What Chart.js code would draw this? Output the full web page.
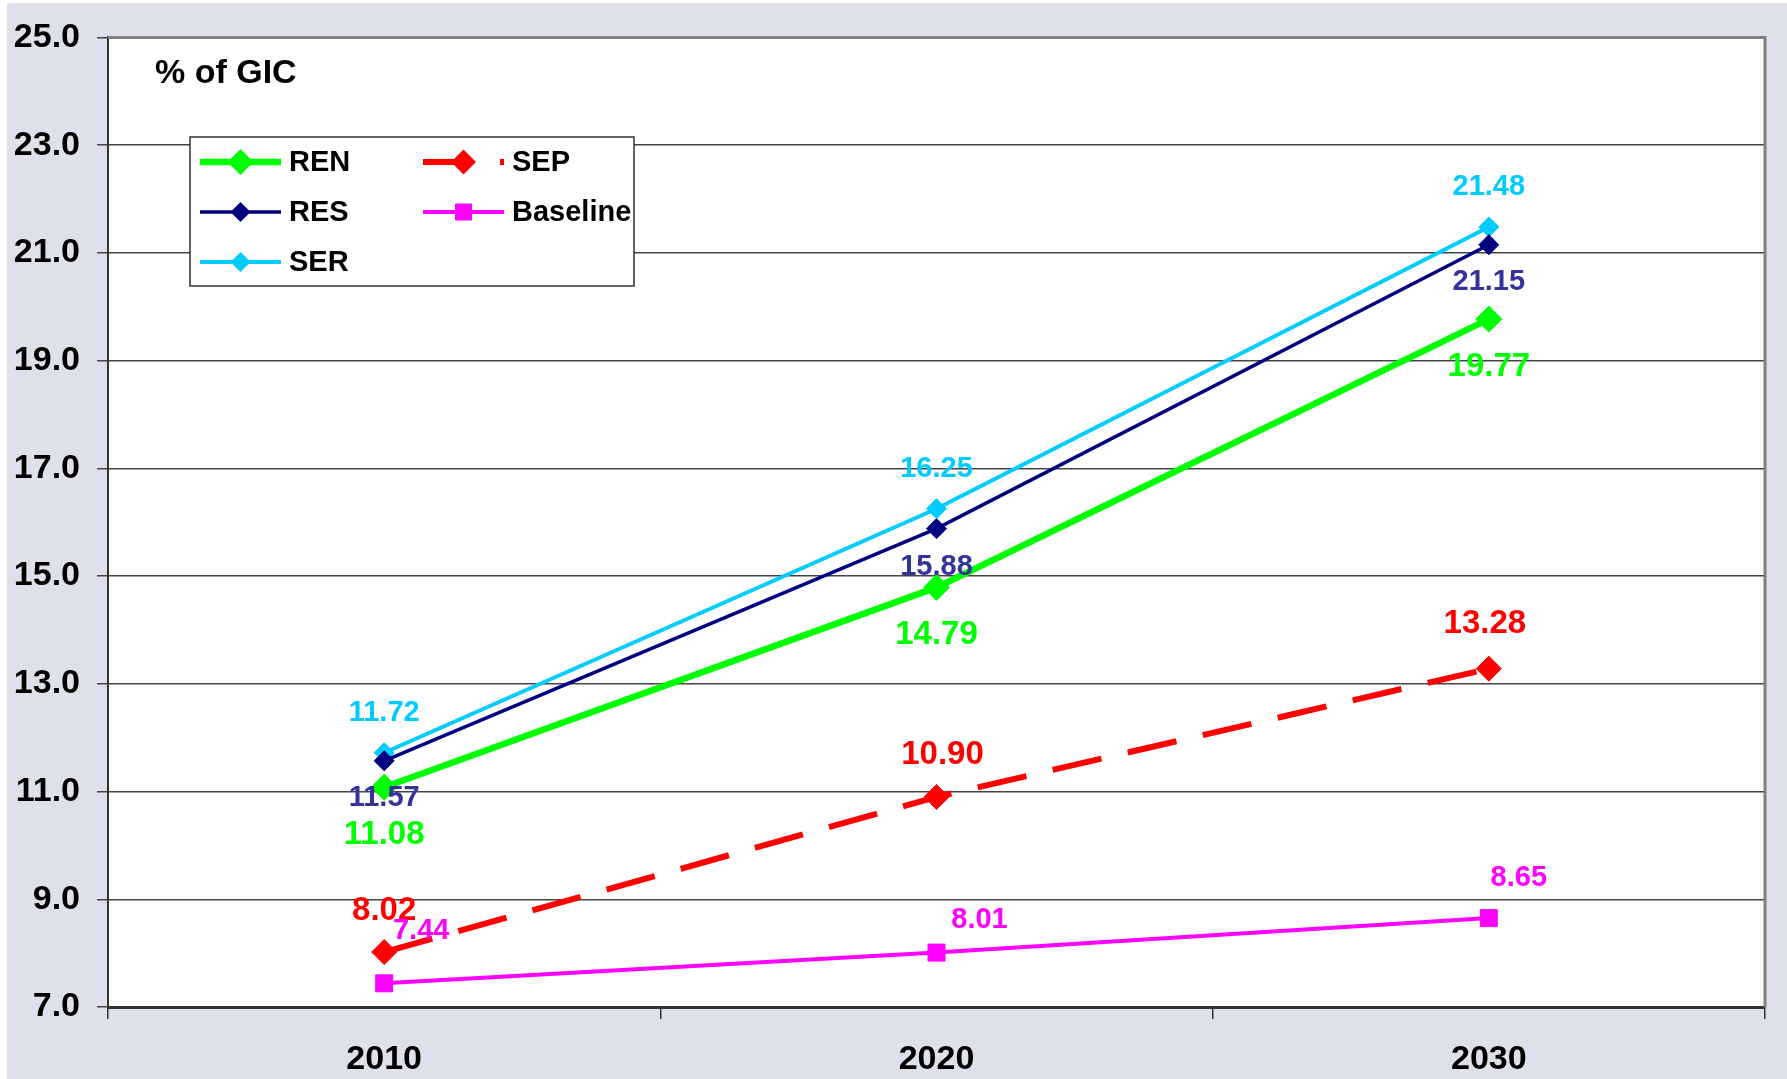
<!DOCTYPE html>
<html><head><meta charset="utf-8">
<script src="https://cdn.jsdelivr.net/npm/chart.js@4/dist/chart.umd.min.js"></script>
<style>html,body{margin:0;padding:0;background:#fff;overflow:hidden}#wrap{width:1787px;height:1079px;position:relative}</style>
</head><body><div id="wrap"><canvas id="c" width="1787" height="1079"></canvas></div>
<script>
// ---- data ----
const categories = ['2010', '2020', '2030'];
const REN = [11.08, 14.79, 19.77];
const RES = [11.57, 15.88, 21.15];
const SER = [11.72, 16.25, 21.48];
const SEP = [8.02, 10.90, 13.28];
const Baseline = [7.44, 8.01, 8.65];
const yTickValues = [7, 9, 11, 13, 15, 17, 19, 21, 23, 25];
const unitTitle = '% of GIC';

const FONT = '"Liberation Sans", Arial, Helvetica, sans-serif';

// ---- label styling (offsets in px relative to the point) ----
const labelStyle = {
  REN:      {color: '#00FF00', size: 33, dx: [0, 0, 0],   dy: [48, 48, 48]},
  RES:      {color: '#333399', size: 29, dx: [0, 0, 0],   dy: [37, 38, 37]},
  SER:      {color: '#00CCFF', size: 29, dx: [0, 0, 0],   dy: [-40, -40, -40]},
  SEP:      {color: '#FF0000', size: 33, dx: [0, 6, -4],  dy: [-41, -42, -45]},
  Baseline: {color: '#FF00FF', size: 29, dx: [37, 43, 30], dy: [-52, -33, -40]}
};

const datasets = [
  {label: 'REN', data: REN, borderColor: '#00FF00', backgroundColor: '#00FF00', borderWidth: 6.5,
   pointStyle: 'rectRot', pointRadius: 13, pointBorderWidth: 1, pointBackgroundColor: '#00FF00', pointBorderColor: '#00FF00'},
  {label: 'RES', data: RES, borderColor: '#000080', backgroundColor: '#000080', borderWidth: 3.5,
   pointStyle: 'rectRot', pointRadius: 10, pointBorderWidth: 1, pointBackgroundColor: '#000080', pointBorderColor: '#000080'},
  {label: 'SER', data: SER, borderColor: '#00CCFF', backgroundColor: '#00CCFF', borderWidth: 4,
   pointStyle: 'rectRot', pointRadius: 10, pointBorderWidth: 1, pointBackgroundColor: '#00CCFF', pointBorderColor: '#00CCFF'},
  {label: 'SEP', data: SEP, borderColor: '#FF0000', backgroundColor: '#FF0000', borderWidth: 6, borderDash: [50, 27],
   pointStyle: 'rectRot', pointRadius: 12.5, pointBorderWidth: 1, pointBackgroundColor: '#FF0000', pointBorderColor: '#FF0000'},
  {label: 'Baseline', data: Baseline, borderColor: '#FF00FF', backgroundColor: '#FF00FF', borderWidth: 4,
   pointStyle: 'rect', pointRadius: 12, pointBorderWidth: 1, pointBackgroundColor: '#FF00FF', pointBorderColor: '#FF00FF'}
];

// legend layout: order and grid position
const legendOrder = ['REN', 'SEP', 'RES', 'Baseline', 'SER'];
const legendBox = {x: 190, y: 137, w: 444, h: 149, colX: [200, 423], rowY: [162, 212, 262], lineLen: 81, textGap: 8, font: 29};

function drawMarker(ctx, style, r, x, y, color) {
  ctx.save();
  ctx.fillStyle = color;
  ctx.beginPath();
  if (style === 'rect') {
    const s = Math.SQRT1_2 * r;
    ctx.rect(x - s, y - s, 2 * s, 2 * s);
  } else {
    ctx.moveTo(x, y - r); ctx.lineTo(x + r, y); ctx.lineTo(x, y + r); ctx.lineTo(x - r, y); ctx.closePath();
  }
  ctx.fill();
  ctx.restore();
}

const bgPlugin = {
  id: 'bg',
  beforeDraw(chart) {
    const ctx = chart.ctx, a = chart.chartArea;
    ctx.save();
    ctx.fillStyle = '#fff';
    ctx.fillRect(0, 0, chart.width, chart.height);
    ctx.fillStyle = '#DEE0EC';
    ctx.fillRect(7, 3, chart.width - 7, chart.height - 3);
    ctx.fillStyle = '#fff';
    ctx.fillRect(a.left, a.top, a.right - a.left, a.bottom - a.top);
    ctx.restore();
  },
  beforeDatasetsDraw(chart) {
    const ctx = chart.ctx, a = chart.chartArea;
    ctx.save();
    ctx.strokeStyle = '#808080';
    ctx.lineWidth = 3;
    ctx.beginPath();
    ctx.moveTo(a.left, a.top); ctx.lineTo(a.right, a.top); ctx.lineTo(a.right, a.bottom);
    ctx.stroke();
    ctx.restore();
  }
};

const labelsPlugin = {
  id: 'vlabels',
  afterDatasetsDraw(chart) {
    const ctx = chart.ctx;
    ctx.save();
    ctx.textAlign = 'center';
    ctx.textBaseline = 'middle';
    chart.data.datasets.forEach((ds, i) => {
      const st = labelStyle[ds.label];
      const meta = chart.getDatasetMeta(i);
      ctx.font = 'bold ' + st.size + 'px ' + FONT;
      ctx.fillStyle = st.color;
      meta.data.forEach((pt, j) => {
        ctx.fillText(ds.data[j].toFixed(2), pt.x + st.dx[j], pt.y + st.dy[j]);
      });
    });
    // unit title
    ctx.textAlign = 'left';
    ctx.fillStyle = '#000';
    ctx.font = 'bold 34px ' + FONT;
    ctx.fillText(unitTitle, 155, 74);
    ctx.restore();
  },
  afterDraw(chart) {
    const ctx = chart.ctx, L = legendBox;
    ctx.save();
    ctx.fillStyle = '#fff';
    ctx.fillRect(L.x, L.y, L.w, L.h);
    ctx.strokeStyle = '#333';
    ctx.lineWidth = 1.5;
    ctx.strokeRect(L.x, L.y, L.w, L.h);
    ctx.font = 'bold ' + L.font + 'px ' + FONT;
    ctx.textBaseline = 'middle';
    ctx.textAlign = 'left';
    legendOrder.forEach((name, k) => {
      const ds = chart.data.datasets.find(d => d.label === name);
      const cx = L.colX[k % 2], cy = L.rowY[Math.floor(k / 2)];
      ctx.save();
      ctx.strokeStyle = ds.borderColor;
      ctx.lineWidth = ds.borderWidth;
      ctx.setLineDash(ds.borderDash || []);
      ctx.beginPath();
      ctx.moveTo(cx, cy); ctx.lineTo(cx + L.lineLen, cy);
      ctx.stroke();
      ctx.restore();
      drawMarker(ctx, ds.pointStyle, ds.pointRadius, cx + L.lineLen / 2, cy, ds.pointBackgroundColor);
      ctx.fillStyle = '#000';
      ctx.fillText(name, cx + L.lineLen + L.textGap, cy + 1);
    });
    ctx.restore();
  }
};

new Chart(document.getElementById('c'), {
  type: 'line',
  data: {labels: categories, datasets: datasets},
  options: {
    responsive: false,
    animation: false,
    devicePixelRatio: 1,
    layout: {padding: {left: 0, top: 33, right: 22, bottom: 0}},
    plugins: {legend: {display: false}, tooltip: {enabled: false}, title: {display: false}},
    elements: {line: {tension: 0}},
    scales: {
      x: {
        offset: true,
        grid: {offset: true, drawOnChartArea: false, drawTicks: true, tickLength: 12, color: '#333', lineWidth: 1.5},
        border: {color: '#333', width: 3},
        ticks: {color: '#000', font: {family: FONT, size: 34, weight: 'bold'}, padding: 20},
        afterFit(s) { s.height = 72; }
      },
      y: {
        min: 7, max: 25,
        afterBuildTicks(s) { s.ticks = yTickValues.map(v => ({value: v})); },
        grid: {color: '#444', lineWidth: 1.5, tickLength: 11, drawTicks: true},
        border: {color: '#333', width: 2},
        ticks: {color: '#000', font: {family: FONT, size: 34, weight: 'bold'}, padding: 17,
                callback: v => Number(v).toFixed(1)},
        afterFit(s) { s.width = 108; }
      }
    }
  },
  plugins: [bgPlugin, labelsPlugin]
});
</script>
</body></html>
